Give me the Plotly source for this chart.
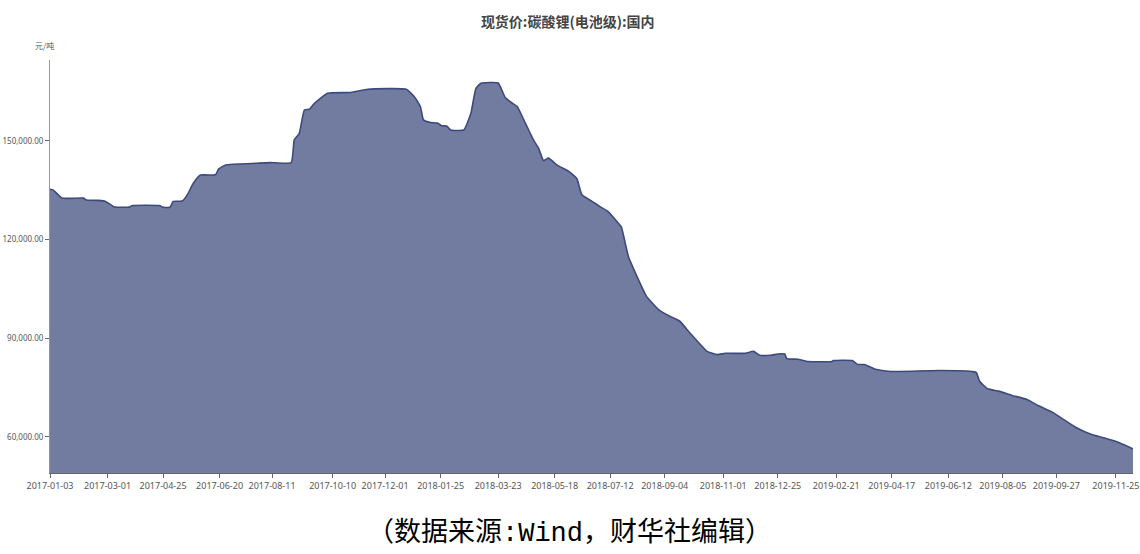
import plotly.graph_objects as go

# ---- data ----
dates = [
    "2017-01-03", "2017-01-06", "2017-01-15", "2017-02-05", "2017-02-08", "2017-02-20", "2017-02-27",
    "2017-03-08", "2017-03-23", "2017-03-25", "2017-04-22", "2017-04-25", "2017-05-02", "2017-05-05",
    "2017-05-14", "2017-05-19", "2017-05-25", "2017-06-01", "2017-06-16", "2017-06-19", "2017-06-26",
    "2017-07-27", "2017-08-09", "2017-08-30", "2017-09-02", "2017-09-07", "2017-09-12", "2017-09-17",
    "2017-09-22", "2017-10-05", "2017-10-28", "2017-11-14", "2017-12-22", "2017-12-30",
    "2018-01-05", "2018-01-08", "2018-01-15", "2018-01-22", "2018-01-26", "2018-01-31", "2018-02-04",
    "2018-02-17", "2018-02-24", "2018-03-01", "2018-03-06", "2018-03-23", "2018-03-30", "2018-04-06",
    "2018-04-11", "2018-04-19", "2018-04-27", "2018-05-02", "2018-05-07", "2018-05-12", "2018-05-20",
    "2018-06-01", "2018-06-09", "2018-06-14", "2018-06-24", "2018-07-02", "2018-07-10", "2018-07-20",
    "2018-07-23", "2018-07-30", "2018-08-09", "2018-08-17", "2018-08-29", "2018-09-09", "2018-09-19",
    "2018-09-29", "2018-10-16", "2018-10-26", "2018-11-03", "2018-11-23", "2018-12-01", "2018-12-07",
    "2018-12-18", "2018-12-25", "2019-01-01", "2019-01-03", "2019-01-14", "2019-01-24", "2019-02-17",
    "2019-02-18", "2019-03-09", "2019-03-14", "2019-03-21", "2019-03-31", "2019-04-11", "2019-04-16",
    "2019-06-04", "2019-06-30", "2019-07-08", "2019-07-10", "2019-07-13", "2019-07-21", "2019-08-01",
    "2019-08-14", "2019-08-29", "2019-09-10", "2019-09-23", "2019-10-04", "2019-10-17", "2019-11-01",
    "2019-11-13", "2019-11-29", "2019-12-12",
]
prices = [
    135300, 135100, 132600, 132600, 132000, 131900, 131600,
    129900, 129900, 130300, 130300, 129800, 129800, 131600,
    131700, 133600, 137100, 139600, 139700, 141400, 142700,
    143200, 143400, 143400, 150300, 152300, 159400, 159600,
    161400, 164500, 164700, 165700, 165700, 163400,
    160400, 156400, 155600, 155400, 154600, 154500, 153300,
    153300, 158400, 166000, 167500, 167600, 163200, 161450,
    160400, 155400, 150300, 147800, 144000, 144750, 142700,
    140700, 138500, 133600, 131600, 130000, 128500, 125000,
    123900, 114900, 107800, 102700, 98700, 96650, 95150,
    91600, 86000, 85000, 85400, 85400, 86000, 84800,
    84800, 85200, 85200, 83800, 83600, 82900, 82900,
    83200, 83200, 82000, 82000, 80650, 80000, 79850,
    80150, 80000, 79750, 79450, 76900, 74600, 73900,
    72600, 71350, 69350, 67500, 65300, 62750, 60700,
    59700, 58150, 56350,
]
x_ticks = [
    "2017-01-03", "2017-03-01", "2017-04-25", "2017-06-20", "2017-08-11", "2017-10-10", "2017-12-01",
    "2018-01-25", "2018-03-23", "2018-05-18", "2018-07-12", "2018-09-04", "2018-11-01", "2018-12-25",
    "2019-02-21", "2019-04-17", "2019-06-12", "2019-08-05", "2019-09-27", "2019-11-25",
]
y_ticks = [60000, 90000, 120000, 150000]

title_text = "现货价:碳酸锂(电池级):国内"
unit_text = "元/吨"
source_text = ("（数据来源<span style=\"font-family:'Liberation Mono'\">:Wind</span>"
               "，财华社编辑）")

fig = go.Figure()
fig.add_trace(go.Scatter(
    x=dates, y=prices, mode="lines",
    line=dict(color="#3d4a7e", width=1.6, shape="spline", smoothing=0.4),
    fill="tozeroy", fillcolor="#727ba0",
    hoverinfo="x+y",
))

fig.update_layout(
    width=1140, height=554,
    margin=dict(l=50, r=7, t=60, b=81, autoexpand=False),
    paper_bgcolor="white", plot_bgcolor="white",
    showlegend=False,
    title=dict(text=f"<b>{title_text}</b>", x=0.498, xanchor="center", y=0.96, yanchor="middle",
               automargin=False,
               font=dict(family="Noto Sans CJK SC", size=14, color="#444444")),
    font=dict(family="Noto Sans, Noto Sans CJK SC", color="#555555"),
    xaxis=dict(
        type="date", range=["2017-01-03", "2019-12-12"],
        tickmode="array", tickvals=x_ticks, ticktext=x_ticks,
        showgrid=False, zeroline=False, automargin=False,
        showline=True, linecolor="#666666", linewidth=1,
        ticks="outside", ticklen=4, tickcolor="#666666",
        tickfont=dict(size=9, color="#555555"),
        tickangle=0,
    ),
    yaxis=dict(
        range=[49000, 174600],
        tickmode="array", tickvals=y_ticks, tickformat=",.2f",
        showgrid=False, zeroline=False, automargin=False,
        showline=True, linecolor="#999999", linewidth=1,
        ticks="outside", ticklen=4, tickcolor="#666666",
        tickfont=dict(size=8, color="#555555"),
    ),
    annotations=[
        dict(text=unit_text, xref="paper", yref="paper", x=-0.005, y=1.036,
             xanchor="center", yanchor="middle", showarrow=False,
             font=dict(family="Noto Sans CJK SC", size=8, color="#555555")),
        dict(text=source_text, xref="paper", yref="paper", x=0.480, y=-0.138,
             xanchor="center", yanchor="middle", showarrow=False,
             font=dict(family="Noto Sans CJK SC", size=27, color="#000000")),
    ],
)

fig.write_html("out.html", config={"displayModeBar": False},
               post_script="document.body.style.margin='0px';")
